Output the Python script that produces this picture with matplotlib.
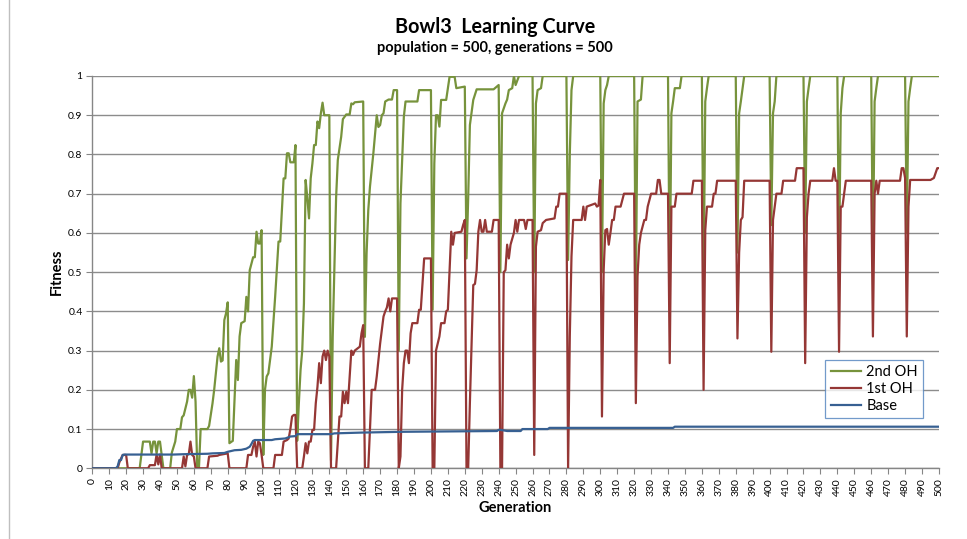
import matplotlib.pyplot as plt
from matplotlib.lines import Line2D

plt.rcParams['font.family'] = ['Lato', 'DejaVu Sans']

# 2nd OH (green), vertices: (generation, fitness)
gen_2nd = [0, 28, 30, 34, 35, 36, 37, 38, 39, 40, 42, 46, 47, 49, 50, 52, 53, 54, 56, 57,
           58, 59, 60, 61, 62, 63, 64, 68, 69, 71, 72, 74, 75, 76, 77, 78, 79, 80, 81, 83,
           85, 86, 87, 88, 90, 91, 92, 93, 95, 96, 97, 98, 99, 100, 101, 102, 103, 104, 106, 108,
           110, 111, 113, 114, 115, 116, 117, 119, 120, 121, 122, 123, 124, 125, 126, 127, 128, 129, 130, 131,
           132, 133, 134, 135, 136, 137, 140, 141, 142, 144, 145, 147, 148, 150, 152, 153, 154, 155, 160, 161,
           162, 163, 164, 166, 168, 169, 170, 171, 172, 173, 175, 177, 178, 180, 181, 182, 184, 185, 192, 193,
           200, 201, 202, 203, 204, 205, 206, 209, 210, 211, 214, 215, 220, 221, 222, 223, 225, 227, 237, 240,
           241, 242, 244, 245, 246, 248, 249, 250, 252, 260, 261, 262, 263, 265, 266, 280, 281, 282, 283, 284,
           300, 301, 302, 303, 304, 305, 320, 321, 322, 324, 325, 340, 341, 342, 343, 344, 347, 348, 360, 361,
           362, 363, 364, 380, 381, 382, 383, 385, 400, 401, 402, 403, 404, 420, 421, 422, 423, 424, 440, 441,
           442, 443, 444, 460, 461, 462, 463, 464, 480, 481, 482, 483, 484, 500]
fit_2nd = [0, 0, 0.068, 0.068, 0.038, 0.068, 0.068, 0.038, 0.068, 0.068, 0, 0, 0.04, 0.068, 0.10, 0.10, 0.13, 0.135, 0.17, 0.20,
           0.20, 0.18, 0.235, 0.17, 0, 0, 0.10, 0.10, 0.108, 0.165, 0.20, 0.285, 0.306, 0.272, 0.275, 0.378, 0.395, 0.423, 0.064, 0.07,
           0.276, 0.225, 0.336, 0.37, 0.375, 0.437, 0.40, 0.505, 0.538, 0.538, 0.603, 0.573, 0.573, 0.607, 0.034, 0.20, 0.234, 0.242, 0.31, 0.437,
           0.578, 0.578, 0.739, 0.739, 0.803, 0.803, 0.78, 0.78, 0.824, 0.07, 0.166, 0.25, 0.30, 0.42, 0.735, 0.69, 0.637, 0.739, 0.777, 0.824,
           0.824, 0.884, 0.867, 0.905, 0.932, 0.90, 0.90, 0.02, 0.336, 0.69, 0.786, 0.845, 0.89, 0.902, 0.902, 0.93, 0.928, 0.933, 0.935, 0.335,
           0.548, 0.658, 0.718, 0.803, 0.90, 0.87, 0.875, 0.90, 0.905, 0.935, 0.94, 0.94, 0.964, 0.964, 0.30, 0.675, 0.896, 0.935, 0.935, 0.964,
           0.964, 0.404, 0.777, 0.90, 0.90, 0.871, 0.939, 0.939, 0.969, 0.998, 0.998, 0.969, 0.973, 0.535, 0.69, 0.875, 0.939, 0.966, 0.966, 0.977,
           0.50, 0.905, 0.93, 0.94, 0.964, 0.969, 1.0, 0.977, 1.0, 1.0, 0.50, 0.93, 0.964, 0.969, 1.0, 1.0, 0.531, 0.80, 0.964, 1.0,
           1.0, 0.50, 0.93, 0.964, 0.977, 1.0, 1.0, 0.433, 0.935, 0.94, 1.0, 1.0, 0.45, 0.905, 0.935, 0.969, 0.969, 1.0, 1.0, 0.467,
           0.935, 0.969, 1.0, 1.0, 0.55, 0.905, 0.935, 1.0, 1.0, 0.62, 0.905, 0.935, 1.0, 1.0, 0.60, 0.935, 0.969, 1.0, 1.0, 0.53,
           0.905, 0.969, 1.0, 1.0, 0.53, 0.935, 0.969, 1.0, 1.0, 0.60, 0.935, 0.969, 1.0, 1.0]

# 1st OH (red)
gen_1st = [0, 15, 16, 17, 18, 20, 21, 33, 34, 37, 38, 39, 40, 41, 53, 54, 55, 56, 57, 58,
           59, 60, 61, 68, 69, 74, 75, 80, 81, 91, 92, 94, 95, 96, 97, 98, 99, 100, 101, 107,
           108, 112, 113, 115, 116, 117, 118, 119, 120, 121, 124, 125, 126, 127, 128, 129, 130, 131, 132, 133,
           134, 135, 136, 137, 138, 139, 140, 141, 144, 145, 146, 147, 148, 149, 150, 151, 152, 153, 154, 155,
           158, 159, 160, 161, 163, 165, 167, 168, 170, 171, 172, 173, 174, 175, 176, 177, 180, 181, 182, 183,
           184, 185, 186, 187, 188, 189, 192, 193, 194, 196, 200, 201, 202, 203, 205, 206, 208, 209, 210, 211,
           212, 213, 214, 218, 219, 220, 221, 222, 223, 225, 226, 227, 228, 229, 230, 231, 232, 233, 236, 237,
           240, 241, 242, 243, 244, 245, 246, 247, 249, 250, 251, 252, 254, 255, 256, 257, 260, 261, 262, 263,
           265, 266, 268, 273, 274, 275, 276, 280, 281, 282, 283, 284, 289, 290, 291, 292, 297, 298, 299, 300,
           301, 302, 303, 304, 305, 306, 307, 308, 309, 312, 314, 320, 321, 322, 323, 324, 326, 327, 328, 330,
           333, 334, 335, 336, 340, 341, 342, 344, 345, 354, 355, 360, 361, 362, 363, 366, 367, 368, 369, 380,
           381, 382, 383, 384, 385, 400, 401, 402, 403, 404, 407, 408, 415, 416, 420, 421, 422, 423, 424, 437,
           438, 439, 440, 441, 442, 443, 444, 445, 460, 461, 462, 463, 464, 465, 477, 478, 479, 480, 481, 482,
           483, 484, 495, 497, 499, 500]
fit_1st = [0, 0, 0.015, 0.025, 0.034, 0.034, 0, 0, 0.008, 0.008, 0.035, 0.01, 0.035, 0, 0, 0.03, 0.005, 0.034, 0.036, 0.068,
           0.034, 0.03, 0, 0, 0.03, 0.032, 0.034, 0.038, 0, 0, 0.034, 0.034, 0.055, 0.068, 0.03, 0.068, 0.064, 0.034, 0, 0,
           0.034, 0.034, 0.068, 0.072, 0.076, 0.10, 0.132, 0.136, 0.136, 0, 0, 0.03, 0.064, 0.038, 0.068, 0.068, 0.098, 0.098, 0.166, 0.208,
           0.268, 0.217, 0.285, 0.30, 0.276, 0.30, 0.285, 0, 0, 0.064, 0.132, 0.132, 0.195, 0.166, 0.195, 0.166, 0.234, 0.30, 0.289, 0.30,
           0.31, 0.344, 0.365, 0, 0, 0.20, 0.20, 0.234, 0.318, 0.353, 0.387, 0.40, 0.41, 0.433, 0.40, 0.433, 0.433, 0, 0.03, 0.20,
           0.268, 0.30, 0.30, 0.268, 0.344, 0.37, 0.37, 0.404, 0.404, 0.535, 0.535, 0, 0, 0.30, 0.336, 0.37, 0.37, 0.40, 0.404, 0.505,
           0.603, 0.57, 0.60, 0.603, 0.62, 0.633, 0, 0, 0.166, 0.467, 0.47, 0.505, 0.603, 0.633, 0.603, 0.603, 0.633, 0.603, 0.603, 0.633,
           0.633, 0, 0, 0.50, 0.505, 0.57, 0.535, 0.57, 0.60, 0.633, 0.603, 0.633, 0.633, 0.633, 0.61, 0.633, 0.633, 0.034, 0.565, 0.603,
           0.607, 0.625, 0.633, 0.637, 0.667, 0.667, 0.70, 0.70, 0, 0.336, 0.54, 0.633, 0.633, 0.667, 0.633, 0.667, 0.675, 0.667, 0.67, 0.735,
           0.132, 0.505, 0.607, 0.61, 0.57, 0.60, 0.633, 0.633, 0.667, 0.667, 0.70, 0.70, 0.166, 0.49, 0.57, 0.60, 0.633, 0.633, 0.667, 0.70,
           0.70, 0.735, 0.735, 0.70, 0.70, 0.268, 0.667, 0.667, 0.70, 0.70, 0.733, 0.733, 0.20, 0.607, 0.667, 0.667, 0.70, 0.70, 0.733, 0.733,
           0.331, 0.55, 0.633, 0.64, 0.733, 0.733, 0.297, 0.633, 0.667, 0.70, 0.70, 0.733, 0.733, 0.765, 0.765, 0.268, 0.64, 0.70, 0.733, 0.733,
           0.765, 0.733, 0.733, 0.297, 0.667, 0.667, 0.70, 0.733, 0.733, 0.336, 0.70, 0.733, 0.70, 0.733, 0.733, 0.765, 0.765, 0.74, 0.336, 0.667,
           0.735, 0.735, 0.735, 0.74, 0.765, 0.765]

# Base (blue)
gen_base = [0, 14, 15, 16, 17, 18, 19, 48, 55, 68, 71, 78, 80, 84, 88, 91, 93, 94, 95, 96,
            106, 108, 114, 117, 120, 121, 141, 143, 159, 183, 239, 240, 241, 245, 253, 254, 269, 270, 343, 344,
            500]
fit_base = [0, 0, 0.005, 0.021, 0.021, 0.034, 0.035, 0.035, 0.036, 0.037, 0.038, 0.039, 0.042, 0.046, 0.047, 0.05, 0.055, 0.062, 0.07, 0.072,
            0.072, 0.074, 0.076, 0.081, 0.082, 0.087, 0.087, 0.089, 0.091, 0.093, 0.095, 0.098, 0.098, 0.095, 0.095, 0.10, 0.10, 0.103, 0.103, 0.106,
            0.106]

x_ticks = list(range(0, 501, 10))
y_ticks = [0, 0.1, 0.2, 0.3, 0.4, 0.5, 0.6, 0.7, 0.8, 0.9, 1]
y_labels = ["0", "0.1", "0.2", "0.3", "0.4", "0.5", "0.6", "0.7", "0.8", "0.9", "1"]

green = "#77933c"
red = "#953735"
blue = "#376092"
grey = "#868686"

fig = plt.figure(figsize=(9.67, 5.39), dpi=100)
ax = fig.add_axes([0.0954, 0.1312, 0.8756, 0.7278])

ax.plot(gen_2nd, fit_2nd, color=green, lw=1.6, label="2nd OH", zorder=3)
ax.plot(gen_1st, fit_1st, color=red, lw=1.6, label="1st OH", zorder=4)
ax.plot(gen_base, fit_base, color=blue, lw=1.6, label="Base", zorder=5)

ax.set_xlim(0, 500)
ax.set_ylim(0, 1)
ax.set_xticks(x_ticks)
ax.set_xticklabels([str(t) for t in x_ticks], rotation=90, fontsize=7.5)
ax.set_yticks(y_ticks)
ax.set_yticklabels(y_labels, fontsize=7.5)
ax.tick_params(axis="both", direction="out", length=4, color=grey, width=0.8, pad=3)
ax.grid(axis="y", color="#8c8c8c", lw=1)
ax.set_axisbelow(True)
for s in ["top", "right"]:
    ax.spines[s].set_visible(False)
for s in ["left", "bottom"]:
    ax.spines[s].set_color(grey)
    ax.spines[s].set_linewidth(1)

ax.set_xlabel("Generation", fontsize=10.5, fontweight="bold", labelpad=4)
ax.set_ylabel("Fitness", fontsize=10.5, fontweight="bold", labelpad=3)

leg = ax.legend(loc="lower left", bbox_to_anchor=(0.866, 0.128), fontsize=10.5,
                frameon=True, fancybox=False, handlelength=2.1, borderpad=0.35,
                labelspacing=0.2, handletextpad=0.35, borderaxespad=0)
leg.get_frame().set_edgecolor("#4f81bd")
leg.get_frame().set_linewidth(0.9)

fig.text(0.512, 0.95, "Bowl3  Learning Curve", ha="center", va="center",
         fontsize=14.2, fontweight="bold")
fig.text(0.512, 0.911, "population = 500, generations = 500", ha="center", va="center",
         fontsize=10.5, fontweight="bold")

# outer chart border
fig.add_artist(Line2D([8.5 / 967, 8.5 / 967], [0.0, 1.0], transform=fig.transFigure,
                      color="#bfbfbf", lw=1))

fig.savefig("out.png", dpi=100)
